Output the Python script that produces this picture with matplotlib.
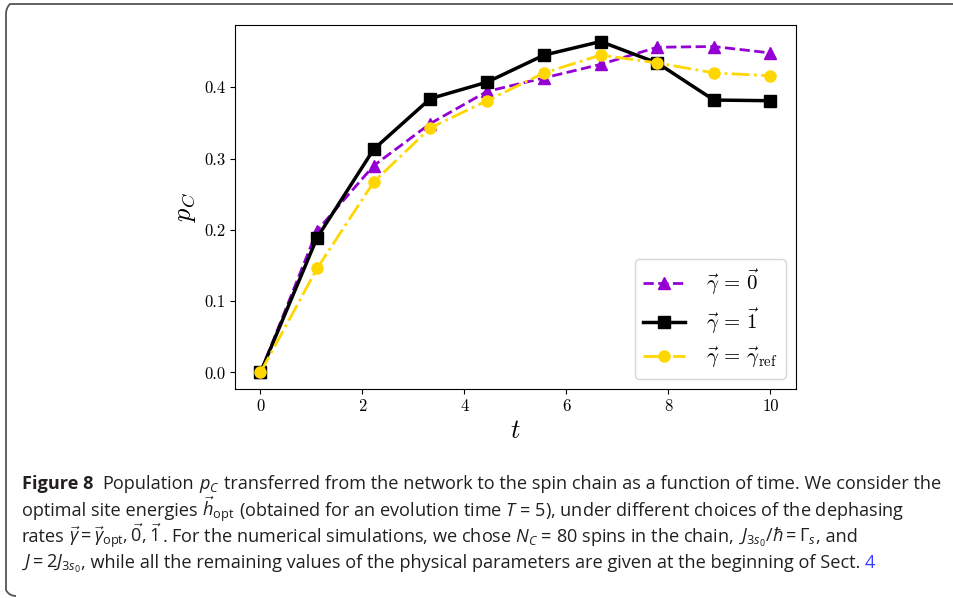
import matplotlib
matplotlib.use("Agg")
import matplotlib.pyplot as plt
from matplotlib.path import Path
from matplotlib.patches import PathPatch

plt.rcParams['font.family'] = 'serif'
plt.rcParams['font.serif'] = ['cmr10', 'DejaVu Serif']
plt.rcParams['mathtext.fontset'] = 'cm'
plt.rcParams['mathtext.rm'] = 'Open Sans'
plt.rcParams['mathtext.it'] = 'Open Sans:italic'
plt.rcParams['mathtext.bf'] = 'Open Sans:bold'
plt.rcParams['axes.unicode_minus'] = False

# data
t = [0.0, 1.11, 2.22, 3.33, 4.44, 5.56, 6.67, 7.78, 8.89, 10.0]
p_zero = [0.0, 0.199, 0.290, 0.349, 0.394, 0.413, 0.432, 0.456, 0.457, 0.448]
p_one = [0.0, 0.189, 0.313, 0.384, 0.407, 0.445, 0.464, 0.434, 0.382, 0.381]
p_ref = [0.0, 0.146, 0.267, 0.343, 0.381, 0.420, 0.445, 0.434, 0.420, 0.416]

labels = [r'$\vec{\gamma}\,=\,\vec{0}$', r'$\vec{\gamma}\,=\,\vec{1}$',
          r'$\vec{\gamma}\,=\,\vec{\gamma}_{\rm ref}$']

# caption pieces; "~" in front means no space before the piece
caption = [
    [r"Population", r"$p_C$",
     r"transferred from the network to the spin chain as a function of time. We consider the"],
    [r"optimal site energies", r"$\vec{h}_{\mathrm{opt}}$",
     r"(obtained for an evolution time $T$ = 5), under different choices of the dephasing"],
    [r"rates", r"$\vec{\gamma}=\vec{\gamma}_{\mathrm{opt}},\vec{0},\vec{1}$",
     r"~. For the numerical simulations, we chose $N_C$ = 80 spins in the chain,",
     r"$J_{3s_0}/\hbar=\Gamma_s$", r"~, and"],
    [r"$J=2J_{3s_0}$", r"~, while all the remaining values of the physical parameters are given at the beginning of Sect."],
]

W, H = 954, 598
fig = plt.figure(figsize=(W / 100, H / 100), dpi=100)
ax = fig.add_axes([235 / W, 1 - 389 / H, (796 - 235) / W, (389 - 25) / H])

ax.plot(t, p_zero, ls='--', color='#9400D3', marker='^', ms=8, lw=2, label=labels[0])
ax.plot(t, p_one, ls='-', color='black', marker='s', ms=8, lw=2.5, label=labels[1])
ax.plot(t, p_ref, ls='-.', color='#FFD700', marker='o', ms=8, lw=2, label=labels[2])

ax.set_xticks([0, 2, 4, 6, 8, 10])
ax.set_yticks([0.0, 0.1, 0.2, 0.3, 0.4])
ax.tick_params(labelsize=12)
ax.set_xlabel(r'$t$', fontsize=19)
ax.set_ylabel(r'$p_C$', fontsize=19)
ax.legend(loc='lower right', fontsize=15, labelspacing=0.45, handletextpad=1.0)

# caption below the plot
cap_kw = dict(family='Open Sans', math_fontfamily='custom', color='#231f20')
renderer = fig.canvas.get_renderer()


def put(x, y, s, size, **kw):
    txt = fig.text(x / W, 1 - y / H, s, ha='left', va='baseline', fontsize=size, **kw)
    return txt, x + txt.get_window_extent(renderer).width


def put_line(x, y, pieces, size, keep=True):
    space = 0.26 * size * 100 / 72
    made = []
    for i, s in enumerate(pieces):
        if s.startswith('~'):
            s = s[1:]
        elif i > 0:
            x += space
        txt, x = put(x, y, s, size, **cap_kw)
        made.append(txt)
    if not keep:
        for txt in made:
            txt.remove()
    return x


# fit the size so the first line spans the same width as the original
probe, x_end = put(22, 489, 'Figure 8', 10, weight='bold', **cap_kw)
x_end = put_line(x_end + 9, 489, caption[0], 10, keep=False)
probe.remove()
size = 10 * (945 - 22 - 9) / (x_end - 9 - 22)

_, x = put(22, 489, 'Figure 8', size, weight='bold', **cap_kw)
put_line(x + 9, 489, caption[0], size)
put_line(22, 516, caption[1], size)
put_line(22, 542, caption[2], size)
x = put_line(22, 568, caption[3], size)
put(x + 0.26 * size * 100 / 72, 568, '4', size, family='Open Sans', color='#3b3bff')

# frame around the figure (cut at the right and bottom)
verts = [(16, 596), (9, 596), (6, 590), (6, 584), (6, 14), (6, 8), (10, 4),
         (16, 4), (954, 4)]
codes = [Path.MOVETO, Path.CURVE3, Path.CURVE3, Path.LINETO, Path.LINETO,
         Path.CURVE3, Path.CURVE3, Path.LINETO, Path.LINETO]
verts = [(vx / W, 1 - vy / H) for vx, vy in verts]
fig.patches.append(PathPatch(Path(verts, codes), transform=fig.transFigure,
                             fill=False, edgecolor='#555555', lw=1.3))

fig.savefig('out.png', dpi=100)
